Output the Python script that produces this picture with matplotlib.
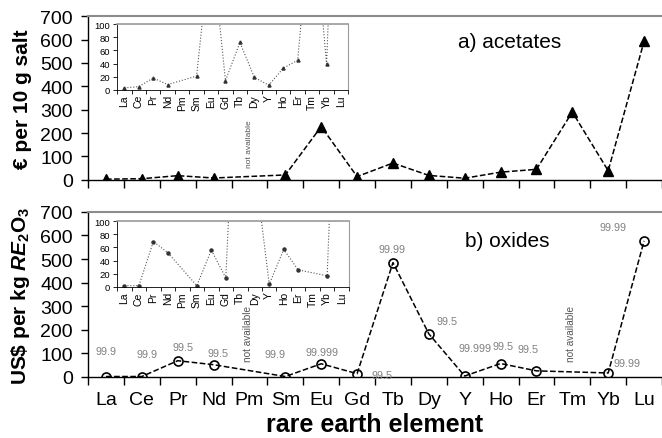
import numpy as np
import matplotlib
matplotlib.use("Agg")
import matplotlib.pyplot as plt

plt.rcParams["font.family"] = ["Liberation Sans", "DejaVu Sans"]
plt.rcParams["mathtext.fontset"] = "custom"
plt.rcParams["mathtext.rm"] = "Liberation Sans:bold"
plt.rcParams["mathtext.it"] = "Liberation Sans:italic:bold"
plt.rcParams["mathtext.bf"] = "Liberation Sans:bold"

ELEMENTS = ["La", "Ce", "Pr", "Nd", "Pm", "Sm", "Eu", "Gd",
            "Tb", "Dy", "Y", "Ho", "Er", "Tm", "Yb", "Lu"]
NAN = np.nan
# price of acetates, EUR per 10 g salt
ACETATES = [3, 5, 18, 8, NAN, 21, 228, 14, 72, 19, 7, 33, 45, 290, 39, 592]
# price of oxides, USD per kg RE2O3
OXIDES = [2, 2, 69, 52, NAN, 2, 56, 14, 485, 183, 4, 57, 26, NAN, 17, 577]
# purity of the oxides (%)
PURITY = ["99.9", "99.9", "99.5", "99.5", None, "99.9", "99.999", "99.5",
          "99.99", "99.5", "99.999", "99.5", "99.5", None, "99.99", "99.99"]
# label offsets in pixels from the marker
PUR_OFF = [(0, 26), (5, 23), (5, 14), (4, 12), None, (-10, 23), (1, 12), (25, -1),
           (-1, 14), (18, 13), (10, 28), (2, 18), (-8, 22), None, (19, 10), (-31, 14)]

x = np.arange(len(ELEMENTS))


def series(vals):
    v = np.array(vals, dtype=float)
    ok = ~np.isnan(v)
    return x[ok], v[ok]


def main_axes(ax, labels):
    ax.set_xlim(-0.5, len(ELEMENTS) - 0.5)
    ax.set_ylim(0, 700)
    ax.set_yticks(range(0, 701, 100))
    ax.set_xticks(np.arange(-0.5, len(ELEMENTS) - 0.4, 1.0))
    ax.set_xticklabels([])
    ax.set_xticks(x, minor=True)
    ax.set_xticklabels(ELEMENTS if labels else [], minor=True, fontsize=14)
    ax.tick_params(axis="x", which="minor", length=0, pad=10)
    ax.tick_params(axis="x", which="major", length=6, width=1, direction="out")
    ax.tick_params(axis="y", length=5, width=1, direction="out", labelsize=14, pad=6)
    ax.spines["right"].set_visible(False)
    ax.spines["top"].set_color("#8c8c8c")
    ax.spines["top"].set_linewidth(1.5)
    ax.spines["left"].set_linewidth(1)
    ax.spines["bottom"].set_linewidth(1)


def inset(fig, rect, vals, marker):
    ia = fig.add_axes(rect)
    xs, ys = series(vals)
    ia.plot(xs, ys, ":", color="#555555", lw=0.8, marker=marker, ms=2.2,
            mfc="#333333", mec="#333333")
    ia.set_xlim(-0.5, len(ELEMENTS) - 0.5)
    ia.set_ylim(0, 100)
    ia.set_yticks(range(0, 101, 20))
    ia.set_xticks(np.arange(-0.5, len(ELEMENTS) - 0.4, 1.0))
    ia.set_xticklabels([])
    ia.set_xticks(x, minor=True)
    ia.set_xticklabels(ELEMENTS, minor=True, rotation=90, fontsize=7.5)
    ia.tick_params(axis="x", which="minor", length=0, pad=3)
    ia.tick_params(axis="x", which="major", length=3, width=0.6)
    ia.tick_params(axis="y", length=3, width=0.6, labelsize=6.8, pad=2)
    for s in ("top", "right"):
        ia.spines[s].set_color("#9a9a9a")
    ia.spines["top"].set_linewidth(1.2)
    for s in ("left", "bottom"):
        ia.spines[s].set_linewidth(0.6)
    return ia


fig = plt.figure(figsize=(6.62, 4.39), dpi=100)
ax1 = fig.add_axes([0.133, 0.588, 0.867, 0.373])
ax2 = fig.add_axes([0.133, 0.139, 0.867, 0.376])

# (a) acetates
xs, ys = series(ACETATES)
ax1.plot(xs, ys, "--", color="black", lw=1.1, marker="^", ms=7,
         mfc="black", mec="black")
main_axes(ax1, labels=False)
ax1.text(11.25, 593, "a) acetates", fontsize=15, ha="center", va="center")
ax1.text(4.0, 55, "not available", rotation=90, fontsize=6, color="#555555",
         ha="center", va="bottom")
ax1.set_ylabel("€ per 10 g salt", fontsize=15, fontweight="bold", labelpad=6)

# (b) oxides
xs, ys = series(OXIDES)
ax2.plot(xs, ys, "--", color="black", lw=1.1, marker="o", ms=6.5,
         mfc="none", mec="black", mew=1.2)
main_axes(ax2, labels=True)
ax2.text(11.2, 577, "b) oxides", fontsize=15, ha="center", va="center")
for xi in (4, 13):
    ax2.text(xi - 0.05, 68, "not available", rotation=90, fontsize=7.2,
             color="#555555", ha="center", va="bottom")
for i, (lab, off) in enumerate(zip(PURITY, PUR_OFF)):
    if lab is None:
        continue
    ax2.annotate(lab, (x[i], OXIDES[i]), xytext=off, textcoords="offset pixels",
                 ha="center", va="center", fontsize=7.8, color="#808080")
ax2.set_ylabel(r"US\$ per kg $RE_{2}\mathrm{O}_{3}$", fontsize=15,
               fontweight="bold", labelpad=6)
ax2.set_xlabel("rare earth element", fontsize=18, fontweight="bold", labelpad=3)

# zoomed insets, 0-100
inset(fig, [0.177, 0.793, 0.349, 0.150], ACETATES, "^")
inset(fig, [0.177, 0.344, 0.350, 0.150], OXIDES, "o")

fig.savefig("out.png", dpi=100)
plt.close(fig)
